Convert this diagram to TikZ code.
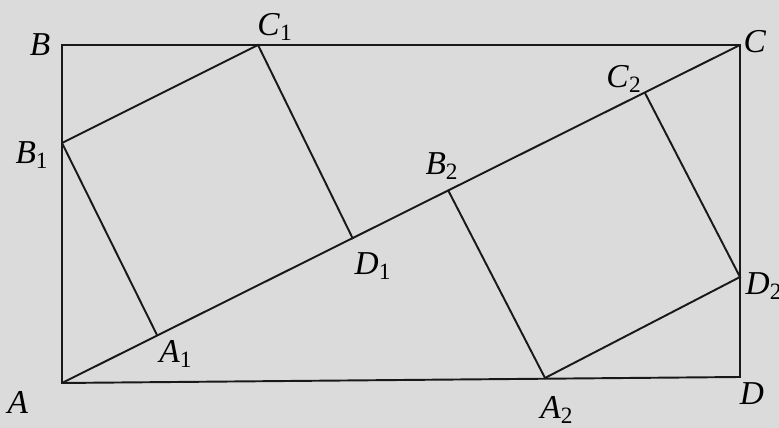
\documentclass[tikz,border=0pt]{standalone}
\usepackage{fontspec}
\setmainfont{Liberation Serif}
\usetikzlibrary{positioning}
\tikzset{
      edgeline/.style={
        draw=black!90,
        line width=1.1pt,
        line join=miter
      },
      ptlabel/.style={
        font=\fontsize{19}{22}\selectfont,
        inner sep=0pt
      }
    }
\newcommand{\pt}[2]{\textit{#1}\textsubscript{#2}}

\begin{document}
\begin{tikzpicture}[x=0.02cm,y=-0.02cm]
    \fill[black!14] (0,0) rectangle (779,428);
    \useasboundingbox (0,0) rectangle (779,428);
    % rectangle ABCD
    \coordinate (A) at (62,383);
    \coordinate (B) at (62,45);
    \coordinate (C) at (740,45);
    \coordinate (D) at (740,377);
    % first square
    \coordinate (B1) at (62,143);
    \coordinate (C1) at (258,45);
    \coordinate (D1) at (353,239);
    \coordinate (A1) at (157,335);
    % second square
    \coordinate (B2) at (448,190);
    \coordinate (C2) at (645,93);
    \coordinate (D2) at (740,277);
    \coordinate (A2) at (545,378);
    \draw[edgeline] (A) -- (B) -- (C) -- (D) -- cycle;
    \draw[edgeline] (A) -- (C);
    \draw[edgeline] (B1) -- (C1) -- (D1);
    \draw[edgeline] (B1) -- (A1);
    \draw[edgeline] (B2) -- (A2) -- (D2) -- (C2);
    % labels
    \node[ptlabel] (lA) at (18,402) {\textit{A}};
    \node[ptlabel] (lB) at (40,45) {\textit{B}};
    \node[ptlabel] (lC) at (755,42) {\textit{C}};
    \node[ptlabel] (lD) at (752,394) {\textit{D}};
    \node[ptlabel] (lB1) at (32,155) {\pt{B}{1}};
    \node[ptlabel] (lC1) at (275,27) {\pt{C}{1}};
    \node[ptlabel] (lD1) at (373,266) {\pt{D}{1}};
    \node[ptlabel] (lA1) at (176,354) {\pt{A}{1}};
    \node[ptlabel] (lB2) at (442,166) {\pt{B}{2}};
    \node[ptlabel] (lC2) at (624,79) {\pt{C}{2}};
    \node[ptlabel] (lD2) at (764,286) {\pt{D}{2}};
    \node[ptlabel] (lA2) at (557,410) {\pt{A}{2}};
    \end{tikzpicture}
\end{document}
